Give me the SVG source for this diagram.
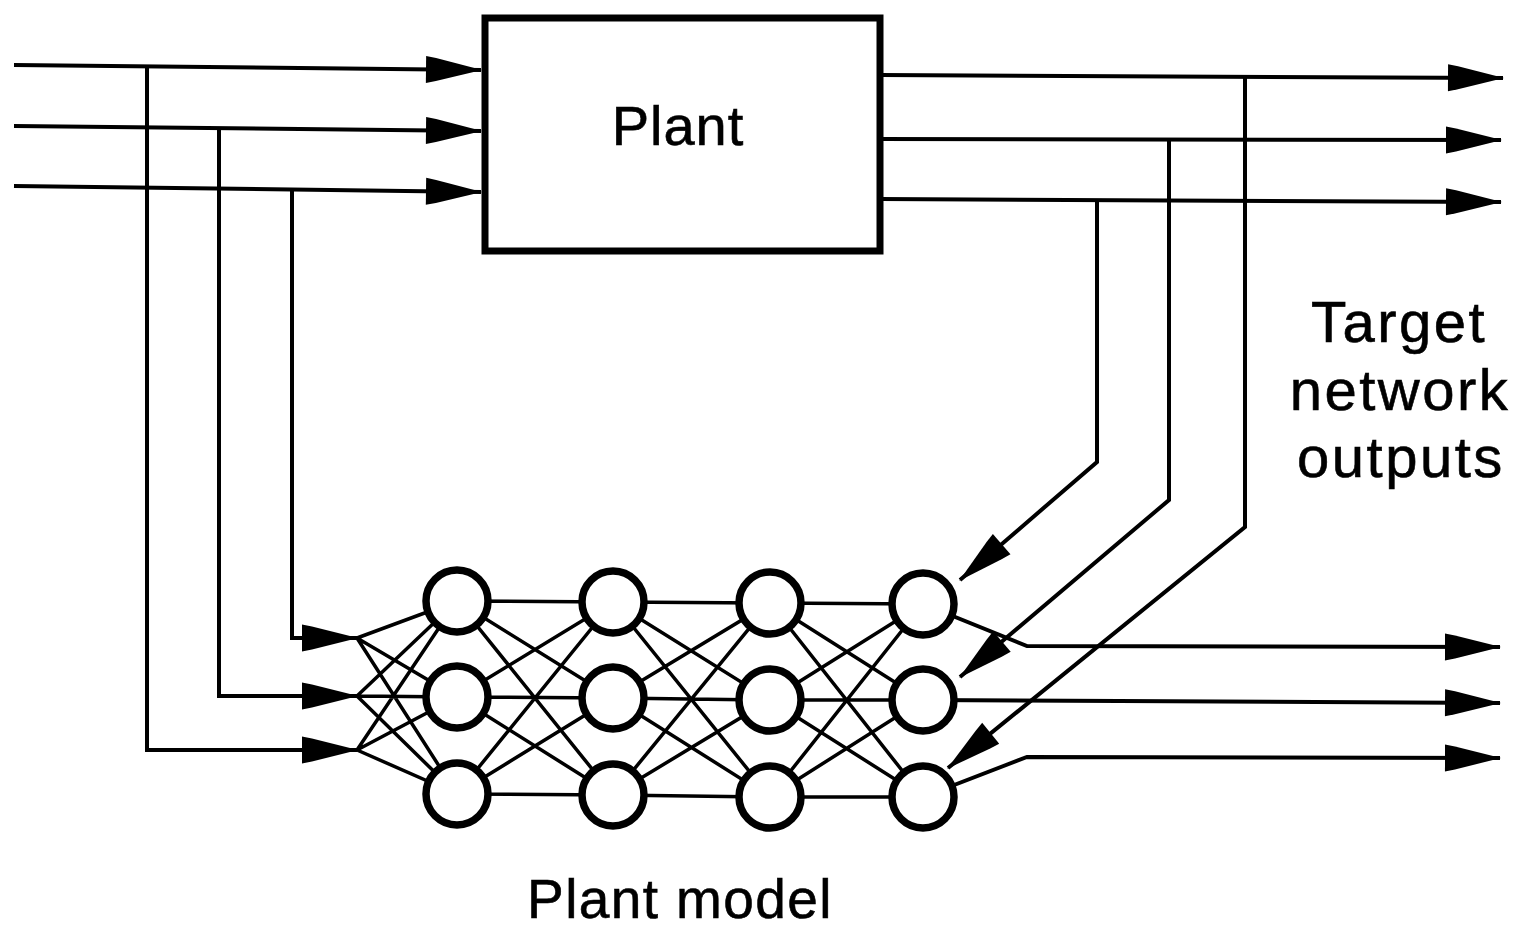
<svg xmlns="http://www.w3.org/2000/svg" width="1516" height="927" viewBox="0 0 1516 927">
<style>
.ln{fill:none;stroke:#000;stroke-width:4;stroke-linejoin:miter}
.ar{marker-end:url(#ah)}
.nw{fill:none;stroke:#000;stroke-width:3.5}
.nd{fill:#fff;stroke:#000;stroke-width:7.5}
.box{fill:#fff;stroke:#000;stroke-width:7}
.tx{font-family:"Liberation Sans",Arial,Helvetica,sans-serif;fill:#000;stroke:#000;stroke-width:0.6}
</style>
<defs>
<marker id="ah" markerUnits="userSpaceOnUse" markerWidth="58" markerHeight="28" refX="55" refY="13.5" orient="auto" overflow="visible">
<path d="M0,0 L10,2 L56,13.5 L10,25 L0,27 Z" fill="#000"/>
</marker>
</defs>
<rect width="1516" height="927" fill="#fff"/>
<g id="connectors">
<path class="ln ar" d="M14,65 L481,70"/>
<path class="ln ar" d="M14,126 L481,131"/>
<path class="ln ar" d="M14,186 L481,192"/>
<path class="ln ar" d="M147,67 L147,750 L357,750"/>
<path class="ln ar" d="M219,129 L219,696 L357,696"/>
<path class="ln ar" d="M292,189 L292,638 L357,638"/>
<path class="ln ar" d="M880,75 L1503,78"/>
<path class="ln ar" d="M880,139 L1501,140"/>
<path class="ln ar" d="M880,199 L1501,202"/>
<path class="ln ar" d="M1097,200 L1097,462 L960,580"/>
<path class="ln ar" d="M1169,140 L1169,500 L960,677"/>
<path class="ln ar" d="M1245,78 L1245,527 L948,768"/>
<path class="ln ar" d="M923,604 L1027,646 L1500,647"/>
<path class="ln ar" d="M923,700 L1500,703"/>
<path class="ln ar" d="M923,797 L1027,757 L1500,758"/>
<path class="nw" d="M357,638 L457,601 M357,638 L457,697 M357,638 L457,794
M357,696 L457,601 M357,696 L457,697 M357,696 L457,794
M357,750 L457,601 M357,750 L457,697 M357,750 L457,794"/>
<path class="nw" d="M457,601 L613,602 M457,601 L613,698 M457,601 L613,795
M457,697 L613,602 M457,697 L613,698 M457,697 L613,795
M457,794 L613,602 M457,794 L613,698 M457,794 L613,795"/>
<path class="nw" d="M613,602 L770,603 M613,602 L770,700 M613,602 L770,797
M613,698 L770,603 M613,698 L770,700 M613,698 L770,797
M613,795 L770,603 M613,795 L770,700 M613,795 L770,797"/>
<path class="nw" d="M770,603 L923,604 M770,603 L923,700 M770,603 L923,797
M770,700 L923,604 M770,700 L923,700 M770,700 L923,797
M770,797 L923,604 M770,797 L923,700 M770,797 L923,797"/>
</g>
<g id="plant">
<rect class="box" x="485" y="18" width="395" height="233"/>
<text class="tx" x="678" y="145" font-size="56" letter-spacing="1" text-anchor="middle">Plant</text>
</g>
<g id="plant-model">
<g id="n11"><circle class="nd" cx="457" cy="601" r="31"/></g>
<g id="n12"><circle class="nd" cx="457" cy="697" r="31"/></g>
<g id="n13"><circle class="nd" cx="457" cy="794" r="31"/></g>
<g id="n21"><circle class="nd" cx="613" cy="602" r="31"/></g>
<g id="n22"><circle class="nd" cx="613" cy="698" r="31"/></g>
<g id="n23"><circle class="nd" cx="613" cy="795" r="31"/></g>
<g id="n31"><circle class="nd" cx="770" cy="603" r="31"/></g>
<g id="n32"><circle class="nd" cx="770" cy="700" r="31"/></g>
<g id="n33"><circle class="nd" cx="770" cy="797" r="31"/></g>
<g id="n41"><circle class="nd" cx="923" cy="604" r="31"/></g>
<g id="n42"><circle class="nd" cx="923" cy="700" r="31"/></g>
<g id="n43"><circle class="nd" cx="923" cy="797" r="31"/></g>
</g>
<g id="label-model">
<text class="tx" x="680" y="918" font-size="55" letter-spacing="1.4" text-anchor="middle">Plant model</text>
</g>
<g id="label-target">
<text class="tx" x="1399" y="342" font-size="58" letter-spacing="2.5" text-anchor="middle">Target</text>
<text class="tx" x="1400" y="410" font-size="58" letter-spacing="2.5" text-anchor="middle">network</text>
<text class="tx" x="1401" y="477" font-size="58" letter-spacing="2.5" text-anchor="middle">outputs</text>
</g>
</svg>
